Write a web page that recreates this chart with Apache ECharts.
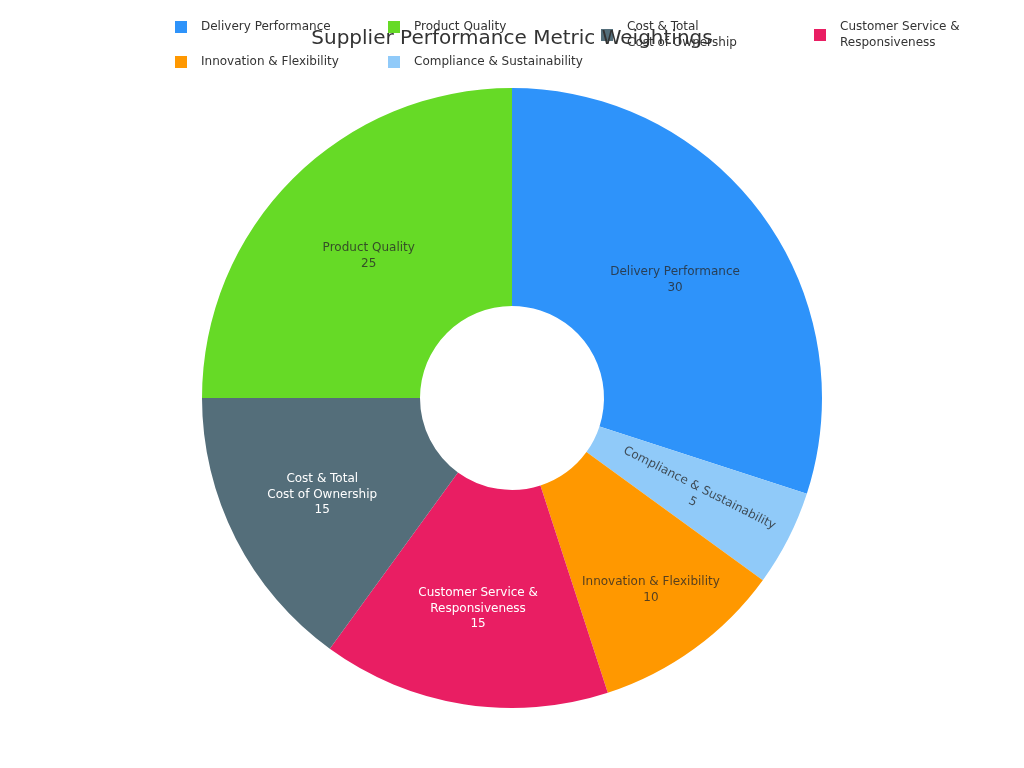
<!DOCTYPE html>
<html lang="en">
<head>
<meta charset="UTF-8">
<title>Supplier Performance Metric Weightings</title>
<script src="https://cdn.jsdelivr.net/npm/echarts@6/dist/echarts.min.js"></script>
</head>
<body style="margin:0">
<div id="main" style="width:1024px;height:768px;"></div>
<script>
// slices, clockwise from 12 o'clock
var metrics = ['Delivery Performance', 'Compliance & Sustainability', 'Innovation & Flexibility',
    'Customer Service &\nResponsiveness', 'Cost & Total\nCost of Ownership', 'Product Quality'];
var weights = [30, 5, 10, 15, 15, 25];
// legend columns, left to right
var legendColumns = [
    ['Delivery Performance', 'Innovation & Flexibility'],
    ['Product Quality', 'Compliance & Sustainability'],
    ['Cost & Total\nCost of Ownership'],
    ['Customer Service &\nResponsiveness']
];

var colors = ['#2E93FA', '#90CAF9', '#FF9800', '#E91E63', '#546E7A', '#66DA26'];
var lightText = ['Customer Service &\nResponsiveness', 'Cost & Total\nCost of Ownership'];
// small label nudges; the lower slices sit a bit further out
var labelNudge = {
    'Delivery Performance': [-2, 2],
    'Product Quality': [1, 2],
    'Compliance & Sustainability': [4, 3],
    'Innovation & Flexibility': [19, 27],
    'Customer Service &\nResponsiveness': [-2, 9],
    'Cost & Total\nCost of Ownership': [-8, 4]
};

var myChart = echarts.init(document.getElementById('main'));

var rows = metrics.map(function (name, i) {
    var item = {
        name: name,
        value: weights[i],
        itemStyle: { color: colors[i] },
        label: { color: lightText.indexOf(name) >= 0 ? '#fff' : 'rgba(40,40,40,0.78)' }
    };
    if (name === 'Compliance & Sustainability') item.label.rotate = 'radial';
    return item;
});

var legends = legendColumns.map(function (col, i) {
    return {
        data: col,
        orient: 'vertical',
        left: 170 + i * 213,
        top: 14,
        itemWidth: 12,
        itemHeight: 12,
        itemGap: 19,
        icon: 'rect',
        textStyle: { fontSize: 12, color: '#333', lineHeight: 16, padding: [0, 0, 0, 9] }
    };
});

var option = {
    textStyle: { fontFamily: 'DejaVu Sans' },
    title: {
        text: 'Supplier Performance Metric Weightings',
        left: 'center',
        top: 24,
        textStyle: { fontSize: 20, fontWeight: 'normal', color: '#333', fontFamily: 'DejaVu Sans' }
    },
    legend: legends,
    series: [{
        name: 'Weighting',
        type: 'pie',
        radius: [92, 310],
        center: [512, 398],
        startAngle: 90,
        label: {
            position: 'inside',
            formatter: '{b}\n{c}',
            fontSize: 12,
            lineHeight: 15.5,
            fontFamily: 'DejaVu Sans'
        },
        labelLine: { show: false },
        labelLayout: function (params) {
            var n = labelNudge[metrics[params.dataIndex]];
            return n ? { dx: n[0], dy: n[1] } : {};
        },
        data: rows
    }]
};

myChart.setOption(option);
</script>
</body>
</html>
